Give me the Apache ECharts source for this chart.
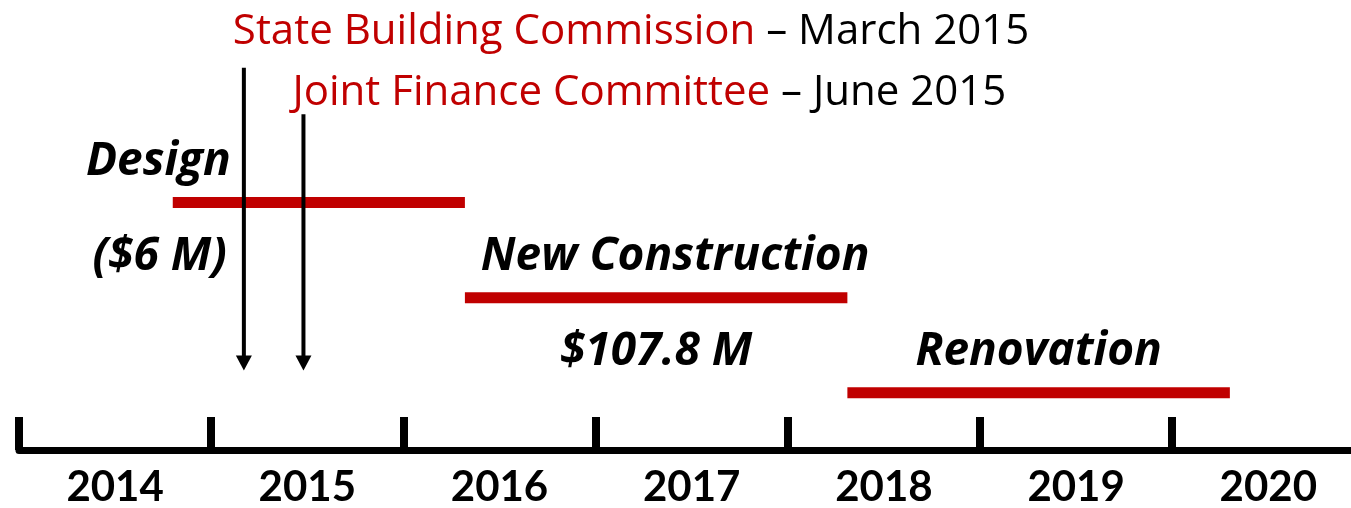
<!DOCTYPE html>
<html>
<head>
<meta charset="utf-8">
<title>Timeline</title>
<script src="https://cdn.jsdelivr.net/npm/echarts@6/dist/echarts.min.js"></script>
<style>
  html, body { margin: 0; padding: 0; background: #fff; }
  #chart { width: 1351px; height: 508px; }
</style>
</head>
<body>
<div id="chart"></div>
<script>
// data
var years = ['2014', '2015', '2016', '2017', '2018', '2019', '2020'];
var phaseNames = ['Design', 'New Construction', 'Renovation'];
var phaseCosts = ['($6 M)', '$107.8 M', ''];
var phaseStart = [2014.80, 2016.32, 2018.31];
var phaseEnd = [2016.32, 2018.31, 2020.30];
var milestoneNames = ['State Building Commission', 'Joint Finance Committee'];
var milestoneDates = ['March 2015', 'June 2015'];
var milestoneValues = [2015.17, 2015.48];

// layout (lane units on the hidden y axis)
var RED = '#c00000';
var FONT = '"Open Sans", Lato, sans-serif';
var YFONT = 'Lato, "Open Sans", sans-serif';
var nameLayout = [
  { align: 'right', from: 'start', dx: 58 },
  { align: 'center', from: 'mid', dx: 19 },
  { align: 'center', from: 'mid', dx: 0 }
];
var msTextLane = [-1.79, -1.15];
var msTopLane = [-1.415, -0.925];
var msTipLane = 1.764;
var xMax = 2014 + 1332 / 192.2; // right edge of the page

var yearTicks = years.map(function (y) { return +y; });
var yearMids = years.map(function (y) { return +y + 0.5; });

var chart = echarts.init(document.getElementById('chart'));

var phaseData = phaseStart.map(function (s, i) { return [s, phaseEnd[i], i]; });
var msData = milestoneValues.map(function (v, i) { return [v, i]; });

var option = {
  animation: false,
  grid: { left: 19, right: 0, top: 12, bottom: 56 },
  xAxis: {
    type: 'value', min: 2014, max: xMax,
    axisLine: { onZero: false, lineStyle: { color: '#000', width: 7 } },
    axisTick: { inside: true, length: 33, customValues: yearTicks, lineStyle: { color: '#000', width: 8 } },
    axisLabel: {
      customValues: yearMids, margin: 16, color: '#000', fontSize: 42, fontWeight: 'bold', fontFamily: YFONT,
      formatter: function (v) { return years[Math.floor(v) - 2014]; }
    },
    splitLine: { show: false }
  },
  yAxis: { type: 'value', min: -2, max: 2.6, inverse: true, show: false },
  series: [
    {
      type: 'custom',
      data: phaseData,
      renderItem: function (params, api) {
        var i = params.dataIndex;
        var s = api.coord([api.value(0), api.value(2)]);
        var e = api.coord([api.value(1), api.value(2)]);
        var h = 11;
        var lay = nameLayout[i];
        var nx = (lay.from === 'start' ? s[0] : (s[0] + e[0]) / 2) + lay.dx;
        var cx = lay.from === 'start' ? nx : (s[0] + e[0]) / 2;
        var kids = [
          { type: 'rect', shape: { x: s[0], y: s[1] - h / 2, width: e[0] - s[0], height: h },
            style: { fill: RED } },
          { type: 'text', x: nx, y: s[1] - 41,
            style: { text: phaseNames[i], align: lay.align, verticalAlign: 'middle',
              font: 'italic bold 46px ' + FONT, fill: '#000' } }
        ];
        if (phaseCosts[i]) {
          kids.push({ type: 'text', x: cx - (lay.from === 'start' ? 4 : 0), y: s[1] + 54,
            style: { text: phaseCosts[i], align: lay.align, verticalAlign: 'middle',
              font: 'italic bold 46px ' + FONT, fill: '#000' } });
        }
        return { type: 'group', children: kids };
      }
    },
    {
      type: 'custom',
      data: msData,
      renderItem: function (params, api) {
        var i = params.dataIndex;
        var x = api.value(0);
        var top = api.coord([x, msTopLane[i]]);
        var tip = api.coord([x, msTipLane]);
        var txt = api.coord([x, msTextLane[i]]);
        var hw = 8, hh = 15;
        return {
          type: 'group',
          children: [
            { type: 'line', shape: { x1: top[0], y1: top[1], x2: tip[0], y2: tip[1] - hh + 2 },
              style: { stroke: '#000', lineWidth: 4 } },
            { type: 'polygon', shape: { points: [[tip[0] - hw, tip[1] - hh], [tip[0] + hw, tip[1] - hh], [tip[0], tip[1]]] },
              style: { fill: '#000' } },
            { type: 'text', x: txt[0] - 11, y: txt[1],
              style: {
                text: '{r|' + milestoneNames[i] + '}{k| \u2013 ' + milestoneDates[i] + '}',
                align: 'left', verticalAlign: 'middle',
                rich: {
                  r: { fill: RED, fontSize: 42, fontFamily: FONT },
                  k: { fill: '#000', fontSize: 42, fontFamily: FONT }
                }
              } }
          ]
        };
      }
    }
  ]
};
chart.setOption(option);
</script>
</body>
</html>
